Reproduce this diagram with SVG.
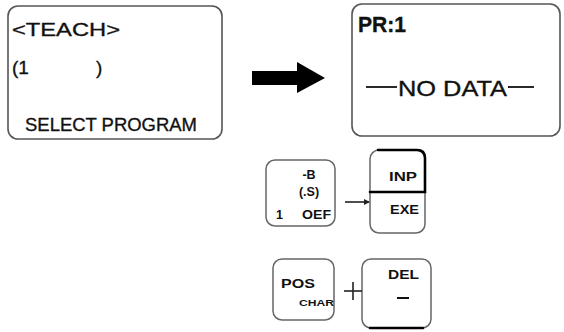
<svg xmlns="http://www.w3.org/2000/svg" width="564" height="332" viewBox="0 0 564 332">
<style>
.box{fill:none;stroke:#555;stroke-width:1.6}
.key{fill:none;stroke:#666;stroke-width:1.5}
.thick{fill:none;stroke:#000;stroke-width:2.6;stroke-linecap:round}
text{font-family:"Liberation Sans",Arial,sans-serif;fill:#111;stroke:#111;stroke-width:0.35}
.big{font-size:19px}
.lcd{font-size:22px}
.k{font-size:12.5px;font-weight:bold;stroke-width:0}
.ks{font-size:9px;font-weight:bold;stroke-width:0}
.conn{stroke:#222;stroke-width:1.6;fill:none}
</style>
<defs>
<marker id="ah" markerWidth="6" markerHeight="6" refX="5" refY="3" orient="auto" markerUnits="userSpaceOnUse">
<path d="M0,0 L6,3 L0,6 z" fill="#222"/>
</marker>
</defs>
<rect width="564" height="332" fill="#fff"/>
<g id="teach-screen">
<rect class="box" x="8" y="6" width="214" height="133" rx="10"/>
<text class="big" x="12" y="36" textLength="108" lengthAdjust="spacingAndGlyphs">&lt;TEACH&gt;</text>
<text class="big" x="12" y="74">(1</text>
<text class="big" x="96" y="74">)</text>
<text class="big" x="25" y="131" textLength="172" lengthAdjust="spacingAndGlyphs">SELECT PROGRAM</text>
</g>
<g id="pr-screen">
<rect class="box" x="352" y="4" width="208" height="132" rx="10"/>
<text class="lcd" x="358" y="32" font-weight="bold" textLength="48" lengthAdjust="spacingAndGlyphs">PR:1</text>
<line x1="366" y1="87" x2="397" y2="87" stroke="#111" stroke-width="1.8"/>
<text class="lcd" x="398" y="96" textLength="109" lengthAdjust="spacingAndGlyphs">NO DATA</text>
<line x1="508" y1="87" x2="534" y2="87" stroke="#111" stroke-width="1.8"/>
</g>
<g id="key-b">
<rect class="key" x="266" y="160" width="69" height="66" rx="9"/>
<text class="k" x="309" y="179" text-anchor="middle">-B</text>
<text class="k" x="309" y="196" text-anchor="middle">(.S)</text>
<text class="k" x="276" y="219">1</text>
<text class="k" x="302" y="219" textLength="29" lengthAdjust="spacingAndGlyphs">OEF</text>
</g>
<g id="key-inp-exe">
<rect class="key" x="370" y="150" width="55" height="83" rx="9"/>
<path class="thick" d="M378,150 H417 Q425,150 425,158 V192 H370"/>
<text class="k" x="389" y="181" textLength="28" lengthAdjust="spacingAndGlyphs">INP</text>
<text class="k" x="390" y="214" textLength="29" lengthAdjust="spacingAndGlyphs">EXE</text>
</g>
<g id="key-pos">
<rect class="key" x="273" y="259" width="61" height="61" rx="9"/>
<text class="k" x="281" y="288" textLength="34" lengthAdjust="spacingAndGlyphs">POS</text>
<text class="ks" x="299" y="306" textLength="35" lengthAdjust="spacingAndGlyphs">CHAR</text>
</g>
<g id="key-del">
<rect class="key" x="362" y="259" width="69" height="69" rx="9"/>
<path class="thick" d="M370,328 H423"/>
<text class="k" x="388" y="279" textLength="31" lengthAdjust="spacingAndGlyphs">DEL</text>
<line x1="397" y1="298" x2="409" y2="298" stroke="#111" stroke-width="2"/>
</g>
<g id="connectors">
<polygon points="252,71 297,71 297,62 325,78 297,93 297,85 252,85" fill="#000"/>
<line class="conn" x1="345" y1="202" x2="369" y2="202" marker-end="url(#ah)"/>
<line class="conn" x1="344" y1="291" x2="362" y2="291"/>
<line class="conn" x1="353" y1="282" x2="353" y2="300"/>
</g>
</svg>
